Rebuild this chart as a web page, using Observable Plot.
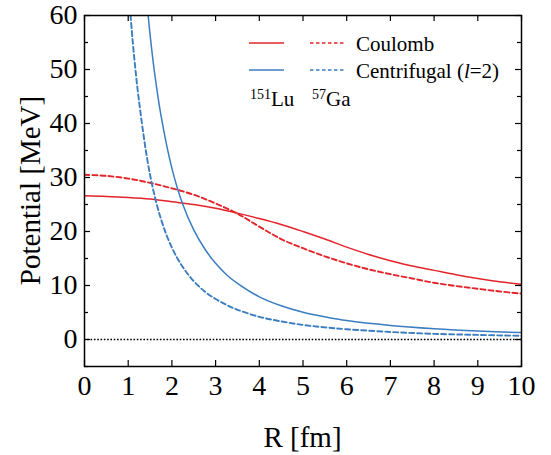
<!DOCTYPE html>
<html>
<head>
<meta charset="utf-8">
<script src="https://cdn.jsdelivr.net/npm/d3@7"></script>
<script src="https://cdn.jsdelivr.net/npm/@observablehq/plot@0.6"></script>
<style>
  html, body { margin: 0; padding: 0; background: #fff; }
  #chart { width: 551px; height: 455px; }
</style>
</head>
<body>
<div id="chart"></div>
<script>
// ---- data ----
const coulombLuR = [0, 0.5, 1, 1.5, 2, 2.5, 3, 3.5, 4, 4.5, 5, 5.5, 6, 6.5, 7, 7.5, 8, 8.5, 9, 9.5, 10];
const coulombLuV = [26.6, 26.5, 26.3, 26.0, 25.5, 25.0, 24.3, 23.4, 22.4, 21.3, 20.0, 18.6, 17.1, 15.75, 14.6, 13.6, 12.8, 12.0, 11.3, 10.7, 10.2];

const coulombGaR = [0, 0.5, 1, 1.5, 2, 2.5, 3, 3.5, 4, 4.5, 5, 5.5, 6, 6.5, 7, 7.5, 8, 8.5, 9, 9.5, 10];
const coulombGaV = [30.5, 30.3, 29.8, 29.0, 28.0, 26.8, 25.2, 23.3, 20.9, 18.6, 16.9, 15.4, 14.1, 13.0, 12.1, 11.3, 10.5, 9.9, 9.4, 8.9, 8.5];

const centLuR = [1.4, 1.5, 1.6, 1.75, 2, 2.25, 2.5, 2.75, 3, 3.25, 3.5, 4, 4.5, 5, 5.5, 6, 7, 8, 9, 10];
const centLuV = [65, 56.5, 49.6, 41.5, 31.7, 25.0, 20.3, 16.8, 14.1, 12.0, 10.4, 7.9, 6.25, 5.05, 4.2, 3.5, 2.6, 2.0, 1.57, 1.27];

const centGaR = [1.0, 1.1, 1.25, 1.5, 1.75, 2, 2.25, 2.5, 2.75, 3, 3.25, 3.5, 4, 4.5, 5, 5.5, 6, 7, 8, 9, 10];
const centGaV = [66, 55.5, 44, 30.5, 22.3, 17.0, 13.4, 10.8, 8.9, 7.5, 6.4, 5.5, 4.2, 3.35, 2.7, 2.25, 1.9, 1.4, 1.05, 0.85, 0.68];

const xTicks = [0, 1, 2, 3, 4, 5, 6, 7, 8, 9, 10];
const yTicks = [0, 10, 20, 30, 40, 50, 60];
const yMinorTicks = [-5, 5, 15, 25, 35, 45, 55];

const RED = "#e3242b";
const BLUE = "#3a7dc0";

const toRows = (rs, vs) => rs.map((r, i) => ({r, v: vs[i]}));

const W = 551, H = 455;
const mL = 84, mR = 30, mT = 15, mB = 89;
const innerW = W - mL - mR, innerH = H - mT - mB;
const FONT = "'Liberation Serif', 'Times New Roman', serif";

const lineOpts = {x: "r", y: "v", strokeWidth: 1.5, curve: "catmull-rom", clip: true};
const DASH = "5,3";

const chart = Plot.plot({
  width: W, height: H,
  marginLeft: mL, marginRight: mR, marginTop: mT, marginBottom: mB,
  style: {background: "#fff", color: "#000", fontFamily: FONT},
  x: {domain: [0, 10]},
  y: {domain: [-5, 60]},
  marks: [
    Plot.ruleY([0], {stroke: "#000", strokeWidth: 1.3, strokeDasharray: "1.6,1.7"}),
    Plot.line(toRows(coulombLuR, coulombLuV), {...lineOpts, stroke: RED}),
    Plot.line(toRows(coulombGaR, coulombGaV), {...lineOpts, stroke: RED, strokeWidth: 1.9, strokeDasharray: DASH}),
    Plot.line(toRows(centLuR, centLuV), {...lineOpts, stroke: BLUE}),
    Plot.line(toRows(centGaR, centGaV), {...lineOpts, stroke: BLUE, strokeWidth: 1.9, strokeDasharray: DASH}),
    // inward ticks on all sides
    Plot.tickX(xTicks, {x: d => d, stroke: "#000", strokeWidth: 1.2, insetTop: innerH - 6}),
    Plot.tickX(xTicks, {x: d => d, stroke: "#000", strokeWidth: 1.2, insetBottom: innerH - 6}),
    Plot.tickY(yTicks, {y: d => d, stroke: "#000", strokeWidth: 1.2, insetRight: innerW - 6}),
    Plot.tickY(yTicks, {y: d => d, stroke: "#000", strokeWidth: 1.2, insetLeft: innerW - 6}),
    Plot.tickY(yMinorTicks, {y: d => d, stroke: "#000", strokeWidth: 1.2, insetRight: innerW - 4}),
    Plot.tickY(yMinorTicks, {y: d => d, stroke: "#000", strokeWidth: 1.2, insetLeft: innerW - 4}),
    Plot.frame({stroke: "#000", strokeWidth: 1.5}),
    Plot.axisX({anchor: "bottom", ticks: xTicks, tickSize: 0, tickPadding: 9, fontSize: 28, label: null}),
    Plot.axisY({anchor: "left", ticks: yTicks, tickSize: 0, tickPadding: 7, fontSize: 28, label: null})
  ]
});

document.getElementById("chart").appendChild(chart);

const svg = d3.select(chart);

// ---- axis titles ----
const titles = svg.append("g").attr("font-family", FONT).attr("fill", "#000")
  .attr("text-anchor", "middle").attr("font-size", 29);
titles.append("text").attr("x", mL + innerW / 2).attr("y", 447).text("R [fm]");
titles.append("text").attr("transform", `translate(40,${mT + innerH / 2}) rotate(-90)`).text("Potential [MeV]");

// ---- legend (inside plot, top right) ----
const lg = svg.append("g").attr("font-family", FONT).attr("fill", "#000").attr("text-anchor", "start");
const rows = [
  {y: 43, color: RED},
  {y: 70, color: BLUE}
];
rows.forEach(rw => {
  lg.append("line").attr("x1", 249).attr("x2", 284).attr("y1", rw.y).attr("y2", rw.y)
    .attr("stroke", rw.color).attr("stroke-width", 1.5);
  lg.append("line").attr("x1", 310).attr("x2", 346).attr("y1", rw.y).attr("y2", rw.y)
    .attr("stroke", rw.color).attr("stroke-width", 1.5).attr("stroke-dasharray", "3.5,2.5");
});
lg.append("text").attr("x", 356).attr("y", 50.5).attr("font-size", 21).text("Coulomb");
const t2 = lg.append("text").attr("x", 356).attr("y", 77.5).attr("font-size", 21);
t2.append("tspan").text("Centrifugal (");
t2.append("tspan").attr("font-style", "italic").text("l");
t2.append("tspan").text("=2)");

const t3 = lg.append("text").attr("x", 250).attr("y", 106).attr("font-size", 21);
t3.append("tspan").attr("font-size", 14).attr("dy", -7).text("151");
t3.append("tspan").attr("dy", 7).text("Lu");
const t4 = lg.append("text").attr("x", 312).attr("y", 106).attr("font-size", 21);
t4.append("tspan").attr("font-size", 14).attr("dy", -7).text("57");
t4.append("tspan").attr("dy", 7).text("Ga");
</script>
</body>
</html>
